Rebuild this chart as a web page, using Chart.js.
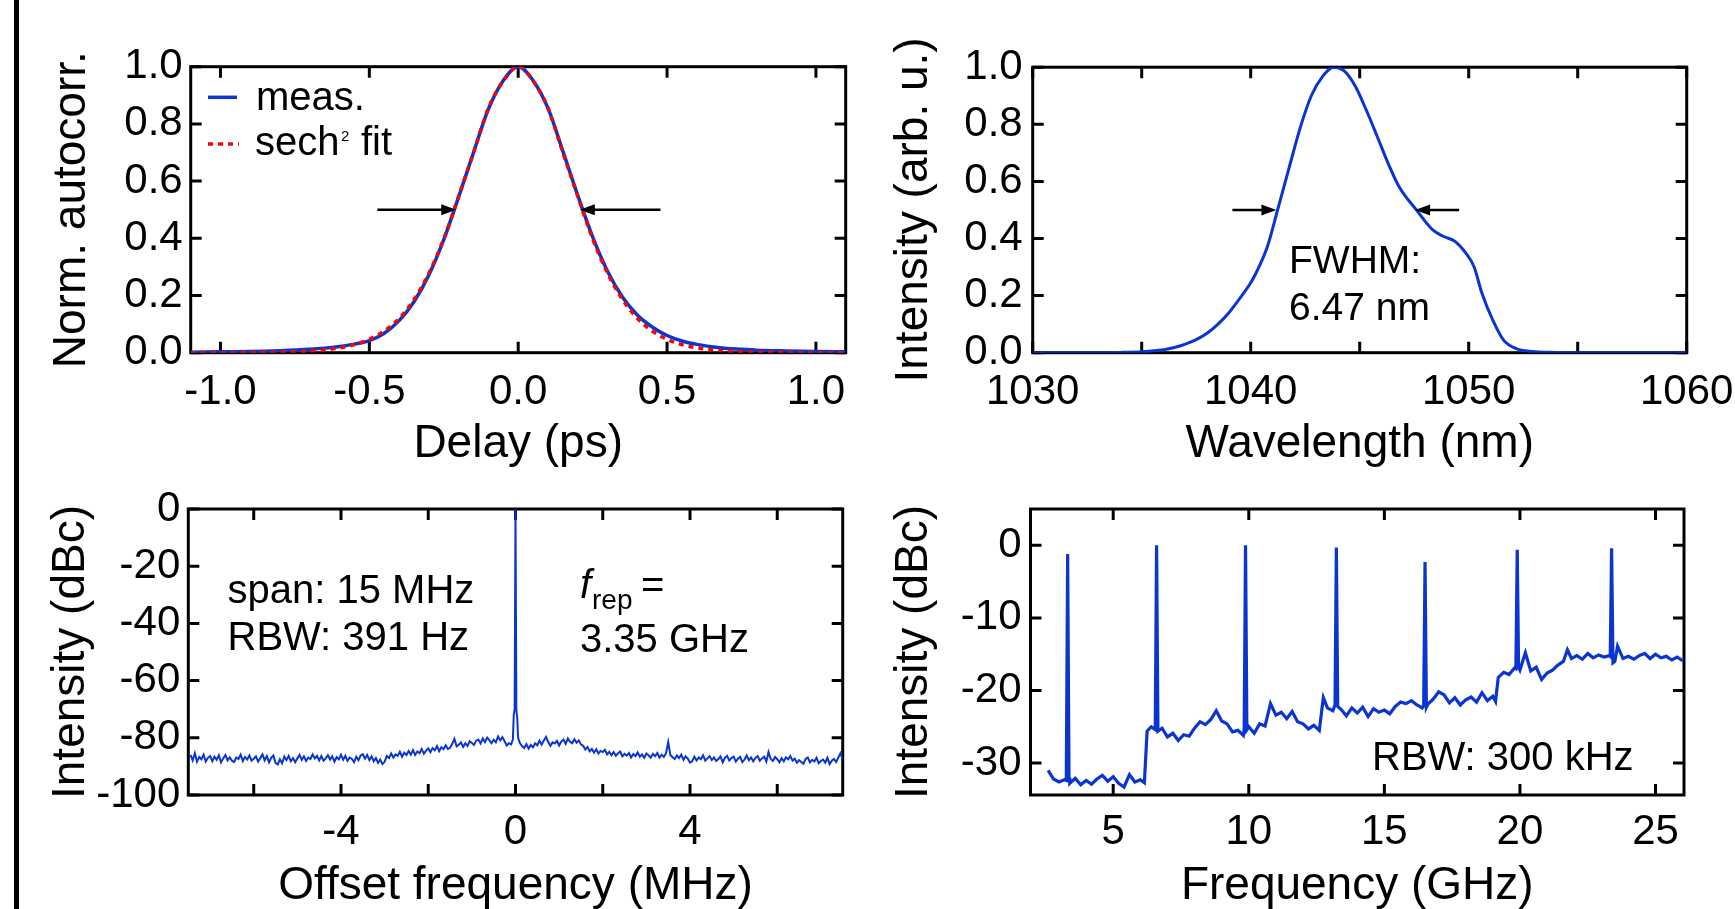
<!DOCTYPE html>
<html>
<head>
<meta charset="utf-8">
<script src="https://cdn.jsdelivr.net/npm/chart.js@4.4.1/dist/chart.umd.min.js"></script>
<style>
html, body { margin: 0; padding: 0; background: #fff; overflow: hidden; width: 1735px; height: 909px; }
canvas { position: absolute; }
#bar { position: absolute; left: 13.5px; top: 0; width: 5px; height: 909px; background: #000; }
</style>
</head>
<body>
<div id="bar"></div>
<canvas id="c1"></canvas>
<canvas id="c2"></canvas>
<canvas id="c3"></canvas>
<canvas id="c4"></canvas>
<script>
// ---- data ----

// (a) autocorrelation, delay in ps
const delayPs = [-1.1, -1.0, -0.9, -0.8, -0.7, -0.65, -0.6, -0.55, -0.5, -0.45, -0.4, -0.35, -0.3, -0.25, -0.2, -0.15, -0.1, -0.05, 0,
  0.05, 0.1, 0.15, 0.2, 0.25, 0.3, 0.35, 0.4, 0.45, 0.5, 0.55, 0.6, 0.65, 0.7, 0.75, 0.8, 0.9, 1.0, 1.1];
const autocorrMeas = [0.002, 0.003, 0.004, 0.007, 0.012, 0.016, 0.022, 0.030, 0.042, 0.068, 0.112, 0.178, 0.272, 0.395, 0.545, 0.700, 0.852, 0.952, 1.0,
  0.952, 0.855, 0.705, 0.550, 0.405, 0.285, 0.195, 0.132, 0.090, 0.060, 0.041, 0.029, 0.021, 0.015, 0.012, 0.009, 0.006, 0.004, 0.003];
const autocorrFit = [0, 0, 0.001, 0.002, 0.006, 0.010, 0.017, 0.028, 0.047, 0.076, 0.120, 0.186, 0.278, 0.398, 0.547, 0.700, 0.855, 0.950, 1.0,
  0.950, 0.855, 0.700, 0.547, 0.398, 0.278, 0.186, 0.120, 0.076, 0.047, 0.028, 0.017, 0.010, 0.006, 0.004, 0.002, 0.001, 0, 0];
const fwhmDelay = [-0.208, 0.207];

// (b) optical spectrum
const wavelengthNm = [1030, 1032, 1034, 1035, 1036, 1036.5, 1037, 1037.5, 1038, 1038.5, 1039, 1039.5, 1040, 1040.25, 1040.76, 1041.27, 1041.77, 1042.28, 1042.78,
  1043.3, 1043.8, 1044.3, 1044.8, 1045.3, 1045.8, 1046.3, 1046.8, 1047.6, 1048.35, 1048.86, 1049.37, 1049.87, 1050.25, 1050.6,
  1051.1, 1051.6, 1052.15, 1052.9, 1054, 1055, 1060];
const spectrumInt = [0, 0, 0.001, 0.003, 0.010, 0.018, 0.030, 0.046, 0.068, 0.100, 0.140, 0.190, 0.245, 0.28, 0.37, 0.51, 0.65, 0.79, 0.90,
  0.968, 1.0, 0.986, 0.933, 0.85, 0.758, 0.664, 0.582, 0.50, 0.43, 0.407, 0.39, 0.349, 0.30, 0.21,
  0.115, 0.044, 0.015, 0.004, 0.001, 0, 0];
const fwhmWavelength = [1041.18, 1047.54];

// (c) RF spectrum around the repetition rate
const offsetMHz = [
  -7.45, -7.4, -7.35, -7.3, -7.25, -7.2, -7.15, -7.1, -7.05, -7.0,
  -6.95, -6.9, -6.85, -6.8, -6.75, -6.7, -6.65, -6.6, -6.55, -6.5,
  -6.45, -6.4, -6.35, -6.3, -6.25, -6.2, -6.15, -6.1, -6.05, -6.0,
  -5.95, -5.9, -5.85, -5.8, -5.75, -5.7, -5.65, -5.6, -5.55, -5.5,
  -5.45, -5.4, -5.35, -5.3, -5.25, -5.2, -5.15, -5.1, -5.05, -5.0,
  -4.95, -4.9, -4.85, -4.8, -4.75, -4.7, -4.65, -4.6, -4.55, -4.5,
  -4.45, -4.4, -4.35, -4.3, -4.25, -4.2, -4.15, -4.1, -4.05, -4.0,
  -3.95, -3.9, -3.85, -3.8, -3.75, -3.7, -3.65, -3.6, -3.55, -3.5,
  -3.45, -3.4, -3.35, -3.3, -3.25, -3.2, -3.15, -3.1, -3.05, -3.0,
  -2.95, -2.9, -2.85, -2.8, -2.75, -2.7, -2.65, -2.6, -2.55, -2.5,
  -2.45, -2.4, -2.35, -2.3, -2.25, -2.2, -2.15, -2.1, -2.05, -2.0,
  -1.95, -1.9, -1.85, -1.8, -1.75, -1.7, -1.65, -1.6, -1.55, -1.5,
  -1.45, -1.4, -1.35, -1.3, -1.25, -1.2, -1.15, -1.1, -1.05, -1.0,
  -0.95, -0.9, -0.85, -0.8, -0.75, -0.7, -0.65, -0.6, -0.55, -0.5,
  -0.45, -0.4, -0.35, -0.3, -0.25, -0.2, -0.15, -0.1,
  -0.06, -0.04, -0.02, 0, 0.02, 0.04, 0.06,
  0.1, 0.15, 0.2, 0.25, 0.3, 0.35, 0.4, 0.45, 0.5,
  0.55, 0.6, 0.65, 0.7, 0.75, 0.8, 0.85, 0.9, 0.95, 1.0,
  1.05, 1.1, 1.15, 1.2, 1.25, 1.3, 1.35, 1.4, 1.45, 1.5,
  1.55, 1.6, 1.65, 1.7, 1.75, 1.8, 1.85, 1.9, 1.95, 2.0,
  2.05, 2.1, 2.15, 2.2, 2.25, 2.3, 2.35, 2.4, 2.45, 2.5,
  2.55, 2.6, 2.65, 2.7, 2.75, 2.8, 2.85, 2.9, 2.95, 3.0,
  3.05, 3.1, 3.15, 3.2, 3.25, 3.3, 3.35, 3.4, 3.45, 3.5,
  3.55, 3.6, 3.65, 3.7, 3.75, 3.8, 3.85, 3.9, 3.95, 4.0,
  4.05, 4.1, 4.15, 4.2, 4.25, 4.3, 4.35, 4.4, 4.45, 4.5,
  4.55, 4.6, 4.65, 4.7, 4.75, 4.8, 4.85, 4.9, 4.95, 5.0,
  5.05, 5.1, 5.15, 5.2, 5.25, 5.3, 5.35, 5.4, 5.45, 5.5,
  5.55, 5.6, 5.65, 5.7, 5.75, 5.8, 5.85, 5.9, 5.95, 6.0,
  6.05, 6.1, 6.15, 6.2, 6.25, 6.3, 6.35, 6.4, 6.45, 6.5,
  6.55, 6.6, 6.65, 6.7, 6.75, 6.8, 6.85, 6.9, 6.95, 7.0,
  7.05, 7.1, 7.15, 7.2, 7.25, 7.3, 7.35, 7.4, 7.45, 7.5];
const offsetDbc = [
  -86.0, -87.9, -85.4, -88.4, -86.7, -87.5, -85.9, -88.3, -87.0, -86.4,
  -88.2, -86.6, -87.7, -86.1, -88.6, -87.2, -86.0, -87.9, -86.8, -88.0,
  -88.5, -86.9, -87.4, -85.9, -88.1, -86.7, -87.6, -86.2, -88.0, -87.3,
  -86.5, -88.3, -87.1, -85.8, -87.9, -86.4, -88.6, -87.0, -86.2, -88.8,
  -89.3, -87.5, -88.9, -86.6, -87.8, -86.3, -88.2, -87.1, -88.5, -87.2,
  -86.0, -87.7, -86.5, -88.1, -86.9, -87.4, -85.8, -87.2, -86.3, -87.9,
  -86.4, -88.0, -87.2, -86.1, -87.6, -86.5, -88.3, -86.8, -87.5, -85.9,
  -87.7, -86.3, -88.1, -86.9, -87.4, -88.5, -86.6, -87.8, -86.2, -85.7,
  -87.3, -86.0, -87.8, -86.5, -88.2, -87.1, -88.8, -87.6, -89.2, -88.4,
  -86.4, -87.1, -85.5, -86.9, -85.8, -86.3, -84.9, -86.6, -85.2, -86.0,
  -84.6, -85.9, -84.3, -86.0, -84.8, -85.4, -83.9, -85.6, -84.5, -83.7,
  -85.0, -83.6, -84.4, -82.9, -84.7, -83.3, -84.0, -82.6, -83.9, -83.5,
  -82.1, -80.4, -83.0, -82.4, -81.6, -83.2, -81.9, -82.8, -81.2, -81.8,
  -82.5, -81.0, -80.6, -82.0, -80.2, -81.5, -79.9, -80.8, -81.9, -80.7,
  -81.6, -79.5, -80.9, -79.8, -81.2, -82.7, -81.9, -82.3,
  -80.5, -72.0, -70.0, 0, -70.5, -73.0, -80.0,
  -81.8, -82.9, -83.6, -82.2, -83.8, -82.5, -83.3, -81.9, -82.6,
  -81.0, -82.4, -80.9, -79.7, -81.5, -82.8, -81.6, -82.0, -81.1, -82.7,
  -81.3, -80.6, -82.1, -80.2, -81.4, -81.9, -80.5, -81.7, -80.9, -82.3,
  -82.8, -84.1, -83.2, -84.7, -83.9, -85.2, -84.0, -85.5, -84.6, -85.0,
  -84.2, -85.8, -84.9, -86.1, -85.0, -86.3, -85.4, -84.8, -86.5, -85.6,
  -86.2, -85.3, -86.9, -85.7, -86.4, -85.1, -86.6, -85.8, -87.0, -85.5,
  -86.1, -87.0, -85.6, -86.4, -85.3, -86.9, -85.9, -86.7, -85.4, -81.5,
  -86.0, -86.8, -87.4, -86.2, -87.1, -85.9, -87.7, -86.5, -87.3, -88.7,
  -88.2, -86.6, -87.9, -86.9, -87.5, -86.1, -88.0, -87.2, -86.4, -87.8,
  -86.9, -88.1, -87.4, -86.5, -88.6, -87.0, -86.3, -87.9, -87.1, -86.6,
  -88.3, -87.3, -86.7, -88.5, -87.6, -86.2, -87.8, -86.9, -88.2, -87.0,
  -86.4, -88.0, -87.2, -86.6, -88.3, -85.0, -87.4, -88.1, -86.7, -87.5,
  -88.6, -87.1, -88.2, -86.8, -87.5, -86.4, -88.0, -87.3, -88.7, -87.8,
  -88.5, -89.1, -87.4, -86.9, -88.6, -87.7, -88.3, -87.0, -88.9, -88.1,
  -87.6, -88.7, -87.0, -89.2, -88.0, -87.4, -88.5, -86.9, -85.4, -87.6];

// (d) wide RF spectrum, harmonics of f_rep
const freqGHz = [2.6, 2.8, 3.0, 3.2, 3.27, 3.32, 3.37, 3.4, 3.6, 3.8, 4.0, 4.2, 4.4, 4.6, 4.8, 5.0, 5.2, 5.4, 5.6, 5.8, 6.0, 6.15, 6.25, 6.4,
  6.55, 6.6, 6.65, 6.8, 7.0, 7.2, 7.4, 7.6, 7.8, 8.0, 8.2, 8.4, 8.6, 8.8, 9.0, 9.2, 9.4, 9.6, 9.8, 9.83, 9.88, 9.93,
  10.0, 10.2, 10.4, 10.6, 10.8, 11.0, 11.2, 11.4, 11.6, 11.8, 12.0, 12.2, 12.4, 12.6, 12.75, 12.9, 13.1, 13.18, 13.23, 13.28,
  13.4, 13.6, 13.8, 14.0, 14.2, 14.4, 14.6, 14.8, 15.0, 15.2, 15.4, 15.6, 15.8, 16.0, 16.2, 16.4, 16.45, 16.5, 16.55,
  16.6, 16.8, 17.0, 17.2, 17.4, 17.6, 17.8, 18.0, 18.2, 18.4, 18.6, 18.8, 19.0, 19.1, 19.2, 19.4, 19.6, 19.8, 19.85, 19.9, 19.95,
  20.0, 20.2, 20.4, 20.6, 20.8, 21.0, 21.2, 21.4, 21.6, 21.75, 21.9, 22.1, 22.3, 22.5, 22.7, 22.9, 23.1, 23.3, 23.33, 23.38, 23.43,
  23.5, 23.6, 23.8, 24.0, 24.2, 24.4, 24.6, 24.8, 25.0, 25.2, 25.4, 25.6, 25.8, 26.0];
const freqDbc = [-31.0, -32.2, -32.6, -32.3, -32.4, -1.2, -32.0, -32.8, -32.1, -33.0, -32.4, -32.9, -32.2, -31.7, -32.5, -31.9, -32.8, -33.3, -31.6, -32.6, -32.3, -32.7, -25.6, -25.0,
  -25.4, 0.0, -25.6, -25.2, -26.4, -25.9, -26.9, -26.1, -26.3, -25.2, -24.3, -24.7, -24.0, -22.8, -24.2, -24.6, -25.7, -25.5, -26.2, -25.3, 0.0, -25.4,
  -25.0, -25.9, -24.6, -24.9, -21.8, -23.4, -23.0, -23.9, -22.9, -24.3, -24.6, -25.3, -24.8, -25.5, -21.0, -22.4, -22.8, -22.0, -0.3, -22.2,
  -22.6, -23.5, -22.4, -23.1, -22.3, -23.6, -22.5, -23.0, -22.7, -23.2, -22.2, -21.6, -21.8, -21.4, -22.0, -22.4, -22.1, -2.3, -22.3,
  -21.9, -21.2, -20.2, -20.6, -21.7, -21.0, -22.0, -21.3, -20.9, -21.6, -20.3, -21.4, -20.8, -21.5, -18.2, -17.5, -17.8, -16.9, -17.0, -0.6, -16.8,
  -17.2, -14.8, -17.3, -16.8, -18.5, -17.6, -17.2, -16.5, -16.0, -14.4, -15.6, -15.2, -15.7, -14.9, -15.5, -15.1, -15.4, -15.2, -15.3, -0.4, -16.2,
  -16.0, -13.9, -15.6, -15.3, -15.7, -15.2, -14.9, -15.6, -15.0, -15.5, -15.3, -15.8, -15.4, -15.9];

// ---- styling ----
const FONT = "'Liberation Sans', Arial, Helvetica, sans-serif";
const TICK_SIZE = 42;
const TITLE_SIZE = 46;
const BLUE = '#0a35d0';
const RED = '#ff0000';
Chart.defaults.font.family = FONT;
Chart.defaults.color = '#000';

// frame with inward ticks on all four sides, plus annotations
const framePlugin = {
  id: 'frame',
  beforeDatasetsDraw(chart) {
    const {ctx, chartArea: a, scales: {x, y}} = chart;
    const L = 11;
    ctx.save();
    ctx.strokeStyle = '#000';
    ctx.lineWidth = 3;
    ctx.beginPath();
    x.ticks.forEach(t => {
      const p = x.getPixelForValue(t.value);
      ctx.moveTo(p, a.top); ctx.lineTo(p, a.top + L);
      ctx.moveTo(p, a.bottom); ctx.lineTo(p, a.bottom - L);
    });
    y.ticks.forEach(t => {
      const p = y.getPixelForValue(t.value);
      ctx.moveTo(a.left, p); ctx.lineTo(a.left + L, p);
      ctx.moveTo(a.right, p); ctx.lineTo(a.right - L, p);
    });
    ctx.stroke();
    ctx.strokeRect(a.left, a.top, a.right - a.left, a.bottom - a.top);
    ctx.restore();
  },
  afterDatasetsDraw(chart, args, opts) {
    const {ctx, scales: {x, y}} = chart;
    const ox = opts.ox, oy = opts.oy;
    ctx.save();
    (opts.arrows || []).forEach(ar => {
      const px0 = x.getPixelForValue(ar.from), px1 = x.getPixelForValue(ar.to), py = y.getPixelForValue(ar.y);
      const dir = Math.sign(px1 - px0);
      ctx.strokeStyle = '#000';
      ctx.fillStyle = '#000';
      ctx.lineWidth = 2.5;
      ctx.beginPath();
      ctx.moveTo(px0, py); ctx.lineTo(px1 - dir * 12, py);
      ctx.stroke();
      ctx.beginPath();
      ctx.moveTo(px1, py);
      ctx.lineTo(px1 - dir * 15, py - 5.5);
      ctx.lineTo(px1 - dir * 15, py + 5.5);
      ctx.closePath();
      ctx.fill();
    });
    (opts.samples || []).forEach(s => {
      ctx.strokeStyle = s.color;
      ctx.lineWidth = s.width;
      ctx.setLineDash(s.dash || []);
      ctx.beginPath();
      ctx.moveTo(s.x0 - ox, s.y - oy); ctx.lineTo(s.x1 - ox, s.y - oy);
      ctx.stroke();
    });
    ctx.setLineDash([]);
    ctx.fillStyle = '#000';
    ctx.textAlign = 'left';
    ctx.textBaseline = 'alphabetic';
    (opts.notes || []).forEach(n => {
      ctx.font = (n.italic ? 'italic ' : '') + n.size + 'px ' + FONT;
      ctx.fillText(n.text, n.x - ox, n.y - oy);
    });
    ctx.restore();
  }
};

function xy(xs, ys) {
  return xs.map((v, i) => ({x: v, y: ys[i]}));
}

function makePanel(id, g, datasets, xo, yo, extras) {
  const cv = document.getElementById(id);
  cv.width = g.cw;
  cv.height = g.ch;
  cv.style.left = g.cx + 'px';
  cv.style.top = g.cy + 'px';
  const half = TITLE_SIZE * 1.2 / 2;
  extras.ox = g.cx;
  extras.oy = g.cy;
  return new Chart(cv, {
    type: 'line',
    data: {datasets},
    options: {
      responsive: false,
      animation: false,
      devicePixelRatio: 1,
      layout: {padding: {left: 0, bottom: 0, top: g.t - g.cy, right: g.cx + g.cw - g.r}},
      elements: {point: {radius: 0}},
      plugins: {legend: {display: false}, tooltip: {enabled: false}, frame: extras},
      scales: {
        x: {
          type: 'linear', position: 'bottom', min: xo.min, max: xo.max,
          grid: {display: false, drawTicks: false}, border: {display: false},
          ticks: {stepSize: xo.step, includeBounds: false, autoSkip: false, maxRotation: 0,
            padding: g.bpad, font: {size: TICK_SIZE}, callback: xo.fmt},
          title: {display: true, text: xo.title, font: {size: TITLE_SIZE},
            padding: {top: 0, bottom: g.ch - (g.xTitle - g.cy) - half}},
          afterFit: s => { s.height = g.cy + g.ch - g.b; }
        },
        y: {
          type: 'linear', position: 'left', min: yo.min, max: yo.max,
          grid: {display: false, drawTicks: false}, border: {display: false},
          ticks: {stepSize: yo.step, includeBounds: false, autoSkip: false,
            padding: g.lpad, font: {size: TICK_SIZE}, callback: yo.fmt},
          title: {display: true, text: yo.title, font: {size: TITLE_SIZE},
            padding: {top: g.yTitle - g.cx - half, bottom: 0}},
          afterFit: s => { s.width = g.l - g.cx; }
        }
      }
    },
    plugins: [framePlugin]
  });
}

const fix1 = v => Number(v).toFixed(1);

// (a)
makePanel('c1',
  {cx: 20, cy: 0, cw: 860, ch: 470, l: 190.7, t: 66.7, r: 845.7, b: 352.7, yTitle: 72, xTitle: 444, lpad: 8, bpad: 14.5},
  [
    {data: xy(delayPs, autocorrFit), borderColor: RED, borderWidth: 3.5, borderDash: [5, 5], cubicInterpolationMode: 'monotone'},
    {data: xy(delayPs, autocorrMeas), borderColor: BLUE, borderWidth: 3.5, cubicInterpolationMode: 'monotone'}
  ],
  {min: -1.1, max: 1.1, step: 0.5, title: 'Delay (ps)', fmt: fix1},
  {min: 0, max: 1.0, step: 0.2, title: 'Norm. autocorr.', fmt: fix1},
  {
    arrows: [{from: -0.473, to: fwhmDelay[0], y: 0.5}, {from: 0.478, to: fwhmDelay[1], y: 0.5}],
    samples: [
      {x0: 208, x1: 237, y: 97.3, color: BLUE, width: 3.5},
      {x0: 208, x1: 239, y: 144, color: RED, width: 3.5, dash: [5, 5]}
    ],
    notes: [
      {text: 'meas.', x: 256, y: 110, size: 40},
      {text: 'sech', x: 255, y: 155, size: 40},
      {text: '2', x: 341, y: 141, size: 15},
      {text: 'fit', x: 361, y: 155, size: 40}
    ]
  });

// (b)
makePanel('c2',
  {cx: 870, cy: 0, cw: 880, ch: 470, l: 1032.7, t: 67.2, r: 1686.7, b: 352.7, yTitle: 914, xTitle: 444, lpad: 10, bpad: 14.5},
  [{data: xy(wavelengthNm, spectrumInt), borderColor: BLUE, borderWidth: 3, cubicInterpolationMode: 'monotone'}],
  {min: 1030, max: 1060, step: 5, title: 'Wavelength (nm)', fmt: v => (v % 10 === 0 ? String(v) : '')},
  {min: 0, max: 1.0, step: 0.2, title: 'Intensity (arb. u.)', fmt: fix1},
  {
    arrows: [{from: 1039.16, to: fwhmWavelength[0], y: 0.5}, {from: 1049.56, to: fwhmWavelength[1], y: 0.5}],
    notes: [
      {text: 'FWHM:', x: 1289, y: 273.3, size: 39},
      {text: '6.47 nm', x: 1289, y: 320, size: 39}
    ]
  });

// (c)
makePanel('c3',
  {cx: 20, cy: 460, cw: 860, ch: 470, l: 188.3, t: 509, r: 842.7, b: 795, yTitle: 71, xTitle: 886, lpad: 8, bpad: 12.7},
  [{data: xy(offsetMHz, offsetDbc), borderColor: BLUE, borderWidth: 2, tension: 0}],
  {min: -7.5, max: 7.5, step: 2, title: 'Offset frequency (MHz)', fmt: v => (v % 4 === 0 ? String(Math.abs(v) < 1e-9 ? 0 : v) : '')},
  {min: -100, max: 0, step: 20, title: 'Intensity (dBc)', fmt: v => String(v)},
  {
    notes: [
      {text: 'span: 15 MHz', x: 227.5, y: 603.3, size: 40},
      {text: 'RBW: 391 Hz', x: 227.5, y: 650, size: 40},
      {text: 'f', x: 580, y: 598.3, size: 40, italic: true},
      {text: 'rep', x: 592, y: 609, size: 28},
      {text: '=', x: 641, y: 598.3, size: 40},
      {text: '3.35 GHz', x: 580, y: 651.7, size: 40}
    ]
  });

// (d)
makePanel('c4',
  {cx: 870, cy: 460, cw: 880, ch: 470, l: 1030.5, t: 509, r: 1684, b: 795, yTitle: 914, xTitle: 886, lpad: 9, bpad: 12.7},
  [{data: xy(freqGHz, freqDbc), borderColor: BLUE, borderWidth: 3.2, tension: 0}],
  {min: 1.95, max: 26.05, step: 5, title: 'Frequency (GHz)', fmt: v => String(v)},
  {min: -34.4, max: 5, step: 10, title: 'Intensity (dBc)', fmt: v => String(v)},
  {
    notes: [{text: 'RBW: 300 kHz', x: 1372, y: 770, size: 40}]
  });
</script>
</body>
</html>
